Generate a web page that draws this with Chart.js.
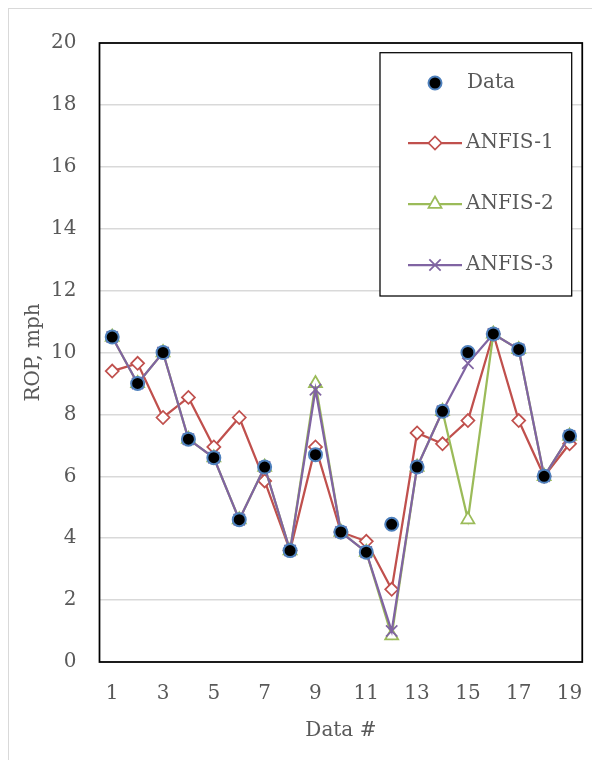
<!DOCTYPE html>
<html>
<head>
<meta charset="utf-8">
<script src="https://cdn.jsdelivr.net/npm/chart.js@4/dist/chart.umd.min.js"></script>
<style>
  body { margin: 0; background: #fff; }
  #wrap { position: relative; width: 592px; height: 760px; overflow: hidden; }
  #frame { position: absolute; left: 8px; top: 8px; width: 600px; height: 800px;
           border-left: 1.5px solid #d9d9d9; border-top: 1.5px solid #d9d9d9; }
  canvas { position: absolute; left: 0; top: 0; }
</style>
</head>
<body>
<div id="wrap">
  <div id="frame"></div>
  <canvas id="myChart" width="592" height="760"></canvas>
</div>
<script>
// Data
const labels = ['1','2','3','4','5','6','7','8','9','10','11','12','13','14','15','16','17','18','19'];
const dataVals = [10.5, 9.0, 10.0, 7.2, 6.6, 4.6, 6.3, 3.6, 6.7, 4.2, 3.55, 4.45, 6.3, 8.1, 10.0, 10.6, 10.1, 6.0, 7.3];
const anfis1 = [9.4, 9.65, 7.9, 8.55, 6.95, 7.9, 5.85, 3.6, 6.95, 4.2, 3.9, 2.35, 7.4, 7.05, 7.8, 10.6, 7.8, 6.0, 7.05];
const anfis2 = [10.5, 9.0, 10.0, 7.2, 6.6, 4.6, 6.3, 3.6, 9.0, 4.2, 3.55, 0.85, 6.3, 8.1, 4.6, 10.6, 10.1, 6.0, 7.3];
const anfis3 = [10.5, 9.0, 10.0, 7.2, 6.6, 4.6, 6.3, 3.6, 8.8, 4.2, 3.55, 1.0, 6.3, 8.1, 9.65, 10.6, 10.1, 6.0, 7.3];

const fontFam = '"DejaVu Serif", "Liberation Serif", serif';
const textCol = '#595959';

// box around the plot area
const plotBox = {
  id: 'plotBox',
  afterDatasetsDraw(chart) {
    const {ctx, chartArea: a} = chart;
    ctx.save();
    ctx.strokeStyle = '#000';
    ctx.lineWidth = 1.75;
    ctx.strokeRect(a.left, a.top, a.right - a.left, a.bottom - a.top);
    ctx.restore();
  }
};

// legend box drawn inside the plot
const boxLegend = {
  id: 'boxLegend',
  afterDraw(chart) {
    const ctx = chart.ctx;
    const bx = 380, by = 52.7, bw = 191.7, bh = 243.3;
    ctx.save();
    ctx.fillStyle = '#fff';
    ctx.fillRect(bx, by, bw, bh);
    ctx.strokeStyle = '#000';
    ctx.lineWidth = 1.25;
    ctx.strokeRect(bx, by, bw, bh);
    const rowY = [83, 143, 204, 265];
    chart.data.datasets.forEach((ds, i) => {
      const y = rowY[i];
      if (ds.showLine !== false) {
        ctx.strokeStyle = ds.borderColor;
        ctx.lineWidth = ds.borderWidth;
        ctx.beginPath();
        ctx.moveTo(408, y);
        ctx.lineTo(462, y);
        ctx.stroke();
      }
      ctx.fillStyle = ds.pointBackgroundColor;
      ctx.strokeStyle = ds.pointBorderColor;
      ctx.lineWidth = ds.pointBorderWidth;
      Chart.helpers.drawPoint(ctx, {pointStyle: ds.pointStyle, radius: ds.pointRadius, rotation: 0, borderWidth: ds.pointBorderWidth}, 435, y);
      ctx.fillStyle = textCol;
      ctx.font = '20px ' + fontFam;
      ctx.textBaseline = 'middle';
      ctx.textAlign = 'left';
      ctx.fillText(ds.label, i === 0 ? 467 : 466, y);
    });
    ctx.restore();
  }
};

const config = {
  type: 'line',
  data: {
    labels: labels,
    datasets: [
      {
        label: 'Data', data: dataVals, showLine: false, order: 0,
        borderColor: '#4a7ebb', borderWidth: 2,
        pointStyle: 'circle', pointRadius: 6.5,
        pointBackgroundColor: '#000', pointBorderColor: '#4f81bd', pointBorderWidth: 2
      },
      {
        label: 'ANFIS-1', data: anfis1, order: 3,
        borderColor: '#c0504d', borderWidth: 2.25,
        pointStyle: 'rectRot', pointRadius: 6.5,
        pointBackgroundColor: '#fff', pointBorderColor: '#c0504d', pointBorderWidth: 1.75
      },
      {
        label: 'ANFIS-2', data: anfis2, order: 2,
        borderColor: '#9bbb59', borderWidth: 2.25,
        pointStyle: 'triangle', pointRadius: 7.5,
        pointBackgroundColor: '#fff', pointBorderColor: '#9bbb59', pointBorderWidth: 1.75
      },
      {
        label: 'ANFIS-3', data: anfis3, order: 1,
        borderColor: '#8064a2', borderWidth: 2.25,
        pointStyle: 'crossRot', pointRadius: 8,
        pointBackgroundColor: '#8064a2', pointBorderColor: '#8064a2', pointBorderWidth: 1.75
      }
    ]
  },
  options: {
    responsive: false,
    animation: false,
    layout: { padding: { top: 43, right: 9.5, left: 0, bottom: 0 } },
    plugins: {
      legend: { display: false },
      tooltip: { enabled: false }
    },
    elements: { line: { tension: 0 } },
    scales: {
      x: {
        offset: true,
        grid: { display: false, drawTicks: false },
        border: { display: false },
        ticks: {
          autoSkip: false, maxRotation: 0, padding: 20, color: textCol,
          font: { family: fontFam, size: 20 },
          callback: function(v, i) { return i % 2 === 0 ? labels[i] : ''; }
        },
        title: {
          display: true, text: 'Data #', color: textCol,
          font: { family: fontFam, size: 20 },
          padding: { top: 0, bottom: 17 }
        },
        afterFit: function(scale) {
          scale.height = 98;
          scale.paddingLeft = 0;
          scale.paddingRight = 0;
        }
      },
      y: {
        min: 0, max: 20,
        grid: { color: '#d9d9d9', lineWidth: 1.5, drawTicks: false },
        border: { display: false },
        ticks: {
          stepSize: 2, padding: 23, color: textCol,
          font: { family: fontFam, size: 20 }
        },
        title: {
          display: true, text: 'ROP, mph', color: textCol,
          font: { family: fontFam, size: 20 },
          padding: { top: 22, bottom: 0 }
        },
        afterFit: function(scale) {
          scale.width = 99.5;
          scale.paddingTop = 0;
          scale.paddingBottom = 0;
        }
      }
    }
  },
  plugins: [plotBox, boxLegend]
};

var myChart = new Chart(document.getElementById('myChart'), config);
</script>
</body>
</html>
